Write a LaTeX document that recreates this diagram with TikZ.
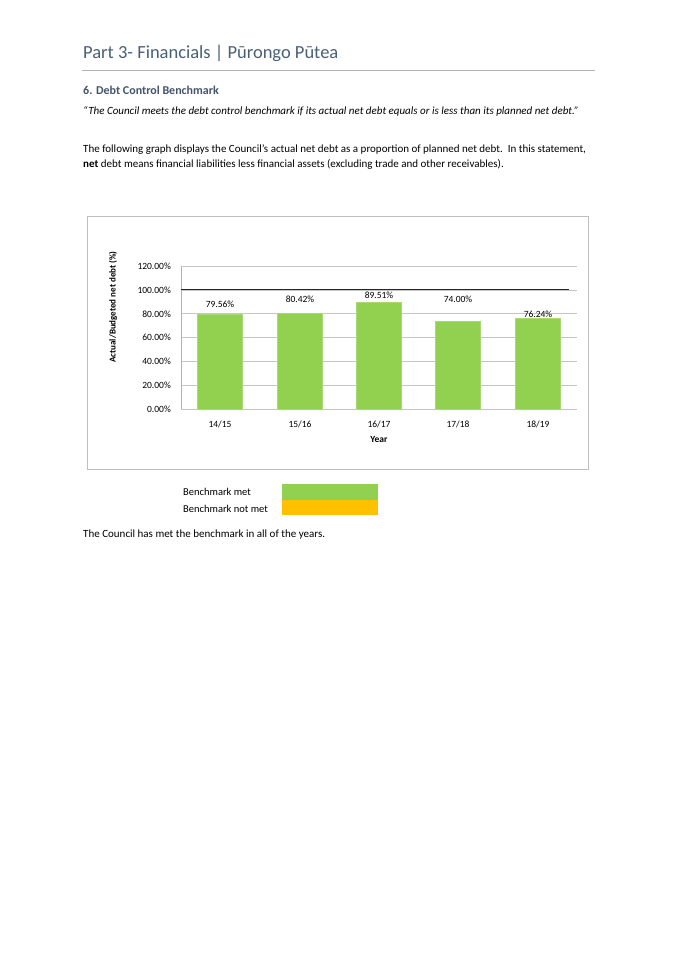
\documentclass[tikz,border=0pt]{standalone}
\usepackage{fontspec}
\setmainfont{Carlito}
\definecolor{titlec}{HTML}{4A6078}
\definecolor{headc}{HTML}{44546A}
\definecolor{barg}{HTML}{92D050}
\definecolor{yel}{HTML}{FFC000}
\begin{document}
\begin{tikzpicture}[x=1pt,y=-1pt,
  body/.style={anchor=west,inner sep=0,font=\fontsize{11}{13}\selectfont},
  tick/.style={anchor=east,inner sep=0,font=\fontsize{9.5}{11}\selectfont},
  lab/.style={anchor=base,inner sep=0,font=\fontsize{9.5}{11}\selectfont},
  bar/.style={fill=barg,draw=barg!80!white}]
\useasboundingbox (0,0) rectangle (675,955);
\fill[white] (0,0) rectangle (675,955);
\node[body,anchor=base west,font=\fontsize{18.5}{20}\selectfont,text=titlec] (title) at (83,59) {Part 3- Financials | Pūrongo Pūtea};
\draw[gray!60,line width=0.8] (82,70) -- (595,70);
\node[body,anchor=base west,font=\bfseries\fontsize{12}{14}\selectfont,text=headc] (h) at (83,95) {6. Debt Control Benchmark};
\node[body,anchor=base west,font=\itshape\fontsize{11}{13}\selectfont] (q) at (83,114) {“The Council meets the debt control benchmark if its actual net debt equals or is less than its planned net debt.”};
\node[body,anchor=base west] (p1) at (83,152) {The following graph displays the Council’s actual net debt as a proportion of planned net debt.\ \ In this statement,};
\node[body,anchor=base west] (p2) at (83,167) {\textbf{net} debt means financial liabilities less financial assets (excluding trade and other receivables).};
% chart frame
\draw[gray!50,line width=0.8] (87,216) rectangle (588,469);
% grid
\foreach \v/\t in {0/0.00\%,20/20.00\%,40/40.00\%,60/60.00\%,80/80.00\%,100/100.00\%,120/120.00\%}{
  \draw[gray!45,line width=0.8] (181,{409-1.19*\v}) -- (577,{409-1.19*\v});
  \node[tick] at (171,{409-1.19*\v}) {\t};
}
\draw[gray!60] (181,266) -- (181,409);
% bars
\foreach \c/\v/\t/\y in {220/79.56/79.56\%/14\slash15,300/80.42/80.42\%/15\slash16,379/89.51/89.51\%/16\slash17,458/74.00/74.00\%/17\slash18,538/76.24/76.24\%/18\slash19}{
  \draw[bar] ({\c-22.5},409) rectangle ({\c+22.5},{409-1.19*\v});
  \node[lab] at (\c,427) {\y};
}
\node[lab] at (220,307) {79.56\%};
\node[lab] at (300,302) {80.42\%};
\node[lab] at (379,298) {89.51\%};
\node[lab] at (458,302) {74.00\%};
\node[lab] at (538,317) {76.24\%};
\draw[black!85,line width=1.3] (181,289.5) -- (569,289.5);
\node[lab,font=\bfseries\fontsize{9.5}{11}\selectfont] (yr) at (379,442) {Year};
\node[rotate=90,inner sep=0,font=\bfseries\fontsize{9}{11}\selectfont] (yl) at (113,307) {Actual/Budgeted net debt (\%)};
% legend
\node[body,anchor=base west,font=\fontsize{10.5}{12}\selectfont] (l1) at (183,495) {Benchmark met};
\node[body,anchor=base west,font=\fontsize{10.5}{12}\selectfont] (l2) at (183,512) {Benchmark not met};
\fill[barg] (282,484) rectangle (378,499.5);
\fill[yel] (282,499.5) rectangle (378,515);
\node[body,anchor=base west] (end) at (83,537) {The Council has met the benchmark in all of the years.};
\end{tikzpicture}
\end{document}
